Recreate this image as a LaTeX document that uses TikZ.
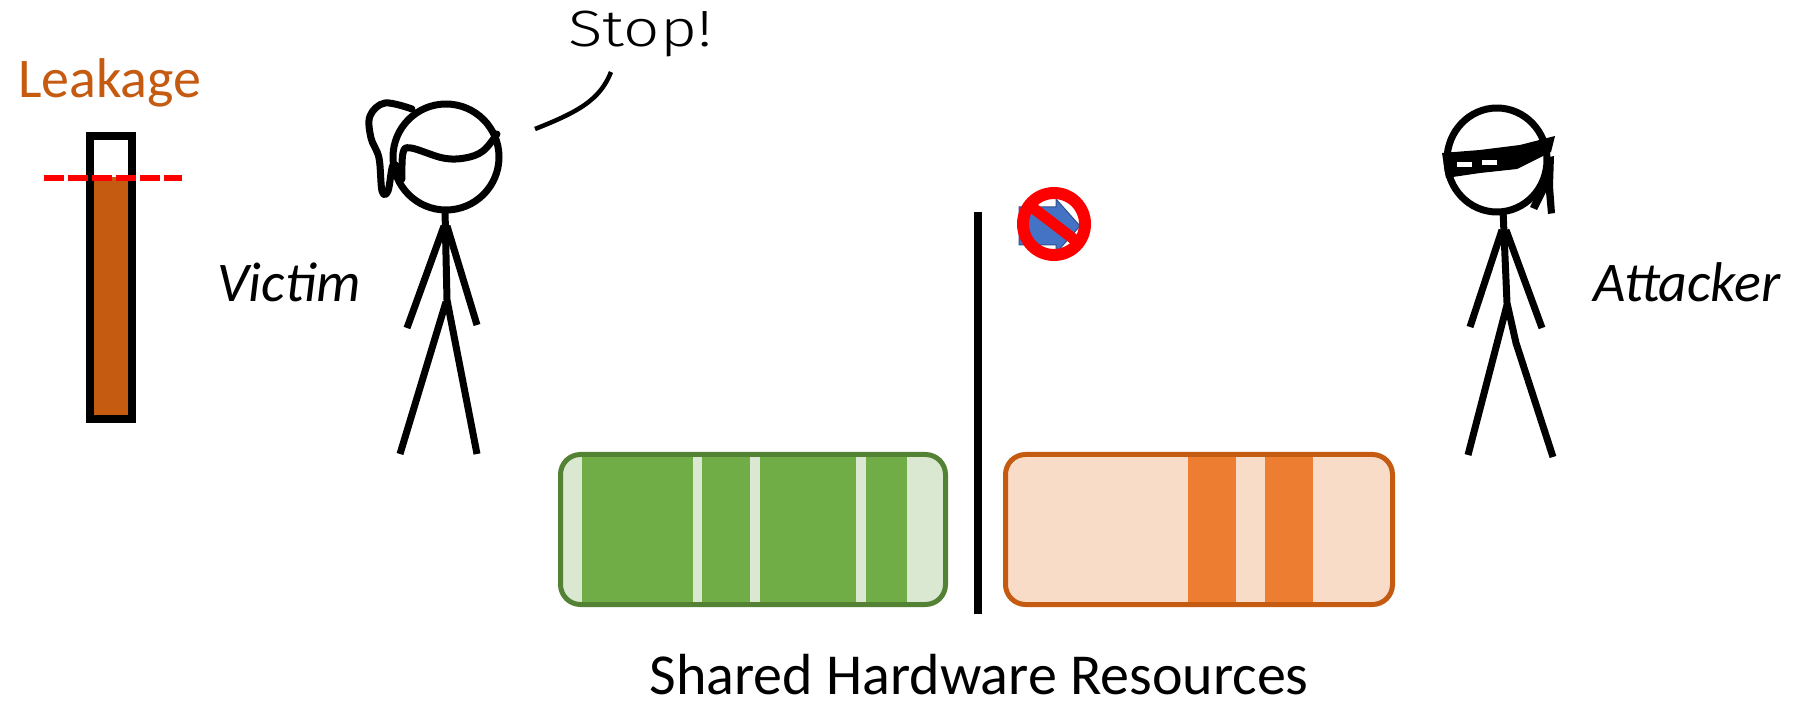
\documentclass[tikz,border=0pt]{standalone}
\usepackage{fontspec}
\setmainfont{Carlito}
\newfontfamily\handfont{Fira Sans}[UprightFont=* Light]

\definecolor{leakorange}{HTML}{C55A11}
\definecolor{leakred}{HTML}{FF0000}
\definecolor{grnedge}{HTML}{548235}
\definecolor{grndark}{HTML}{70AD47}
\definecolor{grnlight}{HTML}{DAE8D1}
\definecolor{orgedge}{HTML}{C55A11}
\definecolor{orgdark}{HTML}{ED7D31}
\definecolor{orglight}{HTML}{F8DCC7}
\definecolor{signblue}{HTML}{4472C4}
\definecolor{signblueedge}{HTML}{2F528F}

\begin{document}
\begin{tikzpicture}[x=1pt,y=-1pt,
  figline/.style={line width=7pt, line join=round, line cap=round},
  limb/.style={figline, line cap=butt},
  label/.style={font=\fontsize{56}{60}\selectfont, inner sep=0pt, anchor=base west},
  resbox/.style={line width=5pt, rounded corners=20pt}]
\useasboundingbox (0,0) rectangle (1800,708);

% ---------- leakage gauge ----------
\node[label, text=leakorange] (leaklabel) at (18,98) {Leakage};
\fill[leakorange] (90,177) rectangle (132,419);
\draw[line width=7.5pt] (90,136) rectangle (132,419);
\draw[leakred, line width=6pt, dash pattern=on 20pt off 4pt] (44,178) -- (182,178);

% ---------- victim ----------
\draw[figline] (446,157) circle[radius=53];
% ponytail
\draw[figline] plot[smooth, tension=0.6] coordinates
  {(412,109) (385,103) (370,116) (371,138) (379,158) (382,191) (388,191) (393,165) (400,171)};
% fringe
\draw[figline] plot[smooth, tension=0.6] coordinates
  {(402,179) (403,153) (411,148) (443,158) (465,158) (483,151) (497,134)};
% body
\draw[limb] (445,210) -- (447,300) -- (477,454);
\draw[limb] (446,302) -- (400,454);
\draw[limb] (444,226) -- (407,328);
\draw[limb] (447,226) -- (477,325);
\node[label, font=\fontsize{56}{60}\selectfont\itshape] (victim) at (217,302) {Victim};

% speech
\node[inner sep=0pt, anchor=base west, font=\handfont\fontsize{51}{55}\selectfont] (stop) at (568,47) {\scalebox{1.25}[1]{Stop!}};
\draw[line width=4.5pt] (535,129) .. controls (578,112) and (600,100) .. (611,72);

% ---------- attacker ----------
\draw[figline] (1497,160) ellipse[x radius=50, y radius=52];
% mask band
\fill (1442,153) -- (1480,150) -- (1520,145) -- (1555,136) -- (1551,152) -- (1517,169) -- (1480,173) -- (1446,178) -- cycle;
\fill[white] (1457,162) rectangle (1472,167);
\fill[white] (1482,160) rectangle (1497,165);
% knot tails
\fill (1545,158) -- (1540,186) -- (1530,207) -- (1537,210) -- (1546,192) -- (1548,214) -- (1555,213) -- (1553,186) -- (1554,156) -- cycle;
% body
\draw[limb] (1503,210) -- (1507,303) -- (1516,343) -- (1553,457);
\draw[limb] (1507,305) -- (1468,455);
\draw[limb] (1502,230) -- (1470,327);
\draw[limb] (1506,230) -- (1542,328);
\node[label, font=\fontsize{56}{60}\selectfont\itshape] (attacker) at (1593,302) {Attacker};

% ---------- partition ----------
\draw[line width=8pt] (978,212) -- (978,614);

% no-access sign
\draw[signblueedge, fill=signblue, line width=1pt]
  (1019,207) -- (1056,207) -- (1056,199) -- (1080,226) -- (1056,253) -- (1056,245) -- (1019,245) -- cycle;
\draw[leakred, line width=12pt] (1054,224) circle[radius=31];
\begin{scope}
  \clip (1054,224) circle[radius=31];
  \draw[leakred, line width=11pt] (1020,198) -- (1088,250);
\end{scope}

% ---------- shared resources ----------
% victim-side buffer
\begin{scope}
  \clip[rounded corners=20pt] (560.5,454.5) rectangle (945.5,604.5);
  \fill[grnlight] (558,452) rectangle (948,607);
  \fill[grndark] (582,452) rectangle (693,607);
  \fill[grndark] (702,452) rectangle (750,607);
  \fill[grndark] (760,452) rectangle (856,607);
  \fill[grndark] (866,452) rectangle (907,607);
\end{scope}
\draw[resbox, grnedge] (560.5,454.5) rectangle (945.5,604.5);

% attacker-side buffer
\begin{scope}
  \clip[rounded corners=20pt] (1005.5,454.5) rectangle (1392.5,604.5);
  \fill[orglight] (1003,452) rectangle (1395,607);
  \fill[orgdark] (1188,452) rectangle (1236,607);
  \fill[orgdark] (1265,452) rectangle (1313,607);
\end{scope}
\draw[resbox, orgedge] (1005.5,454.5) rectangle (1392.5,604.5);

\node[inner sep=0pt, anchor=base, font=\fontsize{58}{60}\selectfont] (shared) at (979,694) {Shared Hardware Resources};
\end{tikzpicture}
\end{document}
